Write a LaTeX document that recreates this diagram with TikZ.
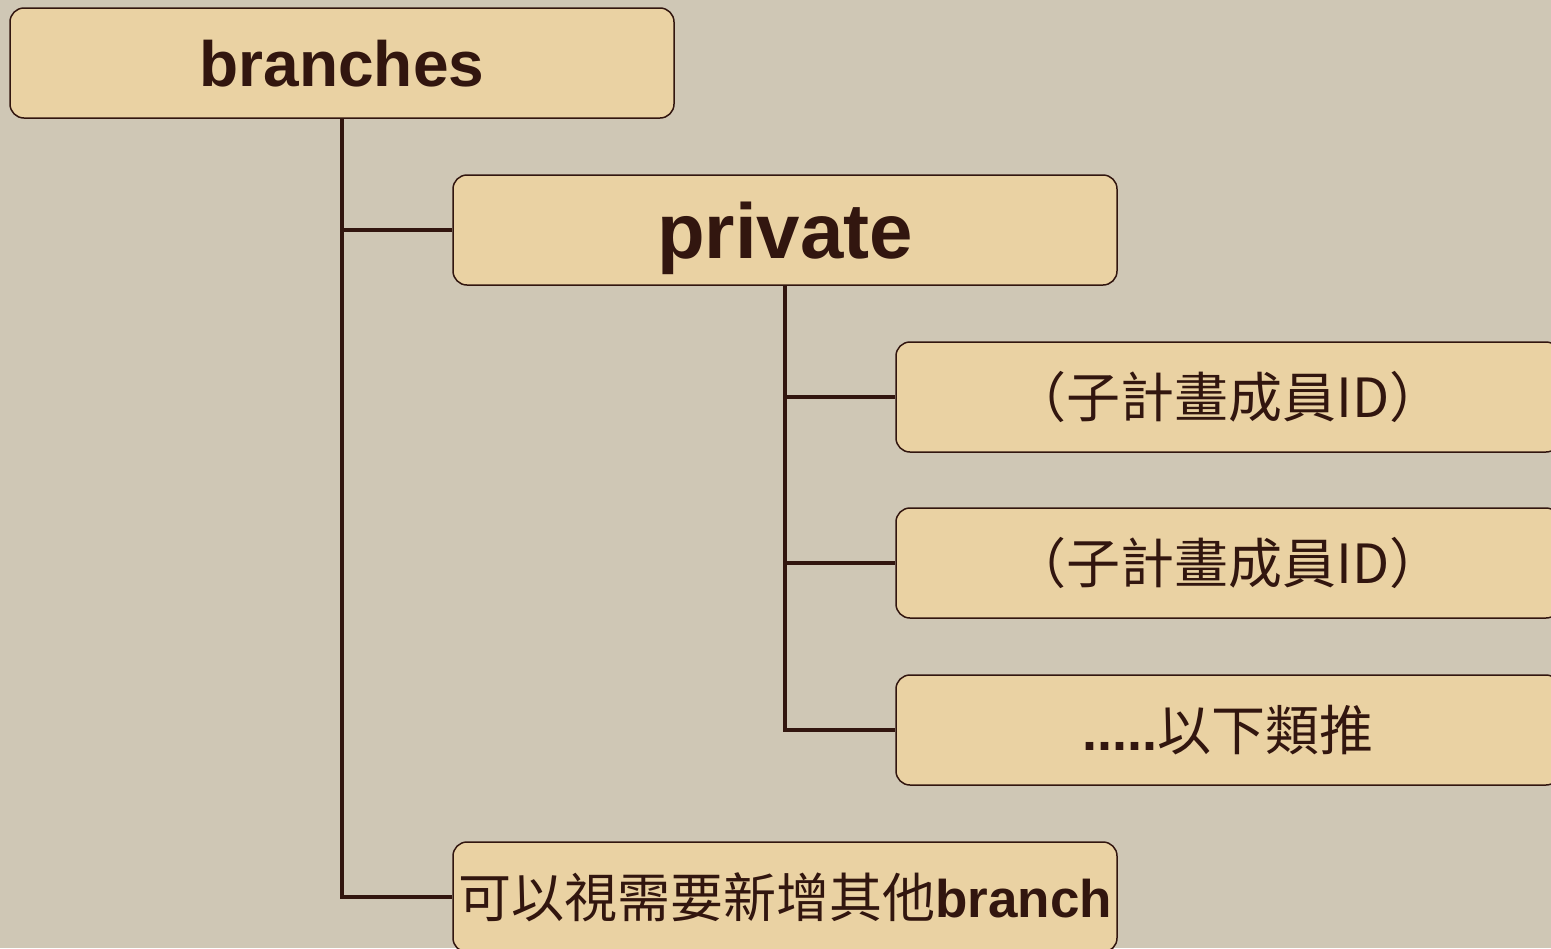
\documentclass[tikz,border=0pt]{standalone}
\usepackage{fontspec}
\usepackage{tikz}
\setmainfont{Liberation Sans}
\newfontfamily\cjk{Noto Sans CJK TC}
\definecolor{bgtan}{HTML}{CFC7B5}
\definecolor{boxtan}{HTML}{EAD2A3}
\definecolor{darkbrown}{HTML}{32160F}

\tikzset{
	treebox/.style={draw=darkbrown, line width=0.75pt, fill=boxtan, rounded corners=7pt,
		minimum width=332pt, minimum height=55pt, inner sep=0pt, text=darkbrown},
	treeline/.style={draw=darkbrown, line width=2pt}
}

\begin{document}
\begin{tikzpicture}[x=0.5pt,y=-0.5pt]
		\fill[bgtan] (0,0) rectangle (1551,948);
		\clip (0,0) rectangle (1551,948);
		\node[treebox, font=\bfseries\fontsize{32}{36}\selectfont, text depth=0pt] (branches) at (342,63) {branches};
		\node[treebox, font=\bfseries\fontsize{39}{44}\selectfont, text depth=0pt] (private) at (785,230) {private};
		\node[treebox, font=\fontsize{27}{32}\selectfont] (member1) at (1228,397) {\cjk （子計畫成員ID）};
		\node[treebox, font=\fontsize{27}{32}\selectfont] (member2) at (1228,563) {\cjk （子計畫成員ID）};
		\node[treebox, font=\fontsize{27}{32}\selectfont] (more) at (1228,730) {\textbf{.....}{\cjk 以下類推}};
		\node[treebox, font=\fontsize{26.5}{30}\selectfont] (other) at (785,897) {{\cjk 可以視需要新增其他}\textbf{branch}};
		\draw[treeline] (branches.south) |- (private.west);
		\draw[treeline] (branches.south) |- (other.west);
		\draw[treeline] (private.south) |- (member1.west);
		\draw[treeline] (private.south) |- (member2.west);
		\draw[treeline] (private.south) |- (more.west);
	\end{tikzpicture}
\end{document}
